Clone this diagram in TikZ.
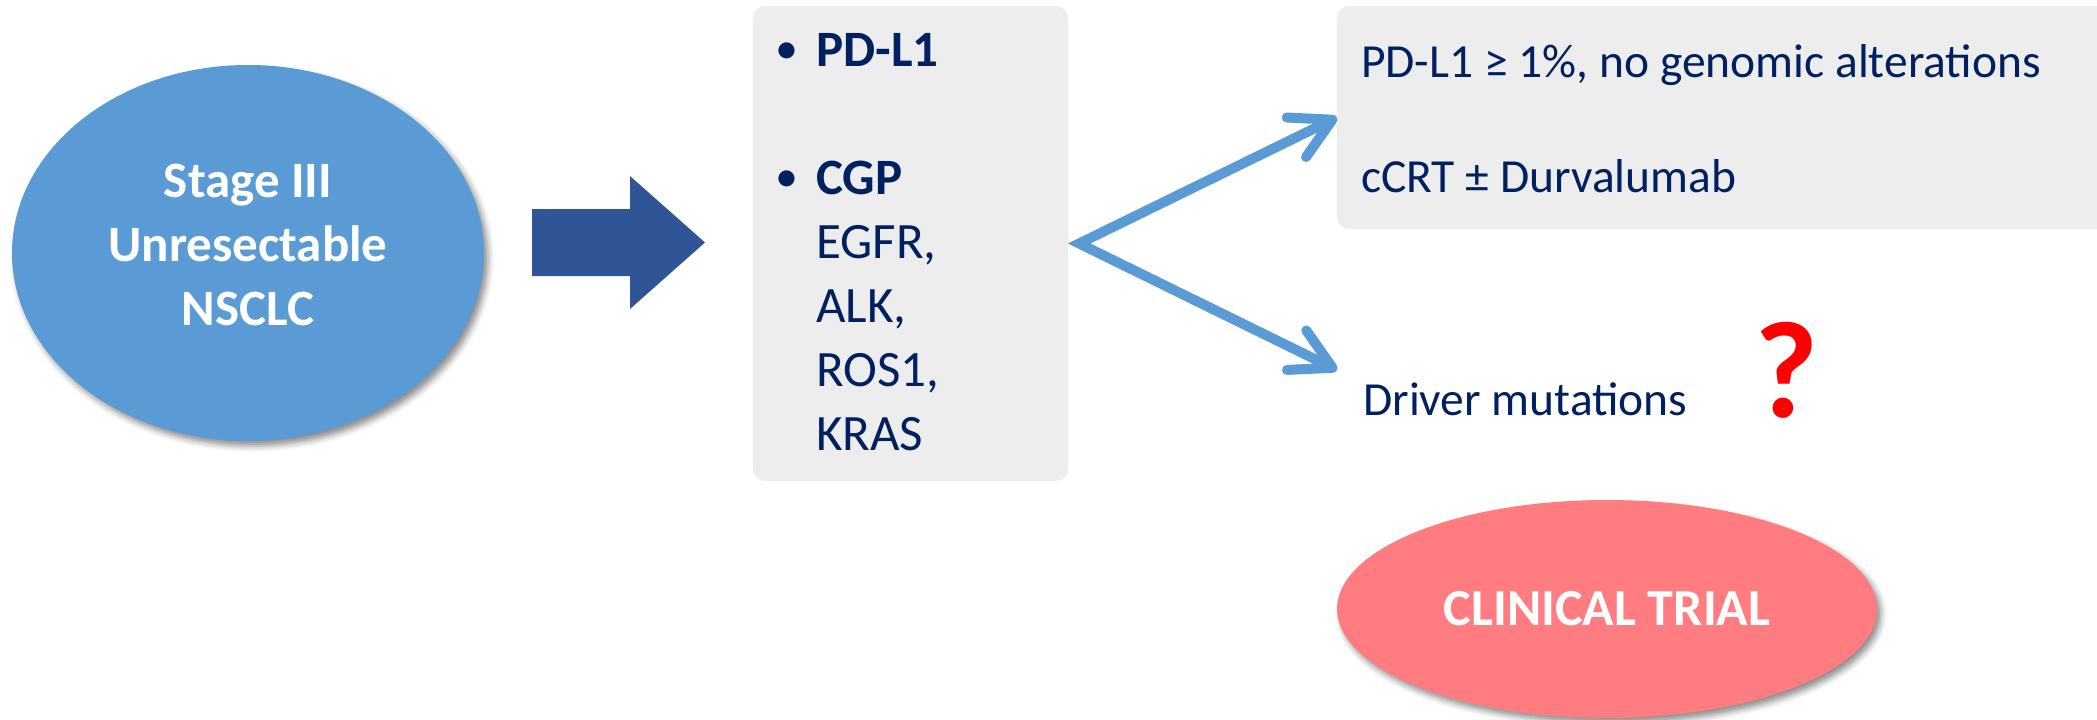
\documentclass[tikz,border=0pt]{standalone}
\usepackage{fontspec}
\setmainfont{Carlito}
\usetikzlibrary{shapes.geometric,arrows.meta,shadows.blur}
\definecolor{ovalblue}{HTML}{5B9BD5}
\definecolor{arrowblue}{HTML}{2F5597}
\definecolor{branchblue}{HTML}{5B9BD5}
\definecolor{panelgray}{HTML}{EDEDED}
\definecolor{navy}{HTML}{002060}
\definecolor{trialred}{HTML}{FF7C80}
\definecolor{qred}{HTML}{FF0000}
\newcommand{\itembullet}{\llap{\makebox[58pt]{\raisebox{5pt}{\fontsize{38}{40}\selectfont •}}}}
\begin{document}
\begin{tikzpicture}[x=1pt,y=-1pt,
  oval/.style={ellipse, inner sep=0pt,
    blur shadow={shadow xshift=4pt, shadow yshift=-5pt, shadow blur radius=6pt, shadow opacity=45}},
  panel/.style={rectangle, rounded corners=12pt, fill=panelgray, inner sep=0pt},
  ovallabel/.style={text=white, inner sep=0pt, align=center, font=\bfseries\fontsize{51}{64}\selectfont},
  itembold/.style={text=navy, inner sep=0pt, anchor=base west, font=\bfseries\fontsize{51}{64}\selectfont},
  itemtext/.style={text=navy, inner sep=0pt, anchor=base west, font=\fontsize{51}{64}\selectfont},
  resulttext/.style={text=navy, inner sep=0pt, anchor=base west, font=\fontsize{47.5}{58}\selectfont},
  bigarrow/.style={fill=arrowblue},
  branch/.style={draw=branchblue, line width=10pt, line join=miter,
    {Straight Barb[length=40pt,width=44pt,round]}-{Straight Barb[length=40pt,width=44pt,round]}}
]
\useasboundingbox (0,0) rectangle (2097,720);
\clip (0,0) rectangle (2097,720);

% starting point
\node[oval, fill=ovalblue, minimum width=472pt, minimum height=376pt] (stage) at (248,253) {};
\node[ovallabel] (stagelbl) at (248,244.5) {Stage III\\Unresectable\\NSCLC};

% block arrow towards the testing panel
\fill[bigarrow] (532,209) -- (630,209) -- (630,176) -- (705,242.5)
  -- (630,309) -- (630,276) -- (532,276) -- cycle;

% biomarker testing panel
\node[panel, minimum width=315pt, minimum height=475pt] (markers) at (910.5,243.5) {};
\node[itembold] (pdl1) at (816,66) {\itembullet PD-L1};
\node[itembold] (cgp) at (816,194) {\itembullet CGP};
\node[itemtext] (egfr) at (816,258) {EGFR,};
\node[itemtext] (alk) at (816,322) {ALK,};
\node[itemtext] (ros) at (816,386) {ROS1,};
\node[itemtext] (kras) at (816,450) {KRAS};

% upper branch: PD-L1 positive, no alterations
\node[panel, minimum width=778pt, minimum height=223pt] (pdl) at (1726,117.5) {};
\node[resulttext] (pdltxt) at (1361,77) {PD-L1 ≥ 1\%, no genomic alterations};
\node[resulttext] (ccrt) at (1361,192) {cCRT ± Durvalumab};

% lower branch: driver mutations
\node[resulttext] (driver) at (1363,415) {Driver mutations};
\node[text=qred, inner sep=0pt, anchor=base, font=\bfseries\fontsize{138}{160}\selectfont] (quest) at (1786,417) {?};

% branching arrows
\coordinate (split) at ([xshift=11pt]markers.east);
\coordinate (drvend) at (1337,370);
\draw[branch] (pdl.west) -- (split) -- (drvend);

% clinical trial
\node[oval, fill=trialred, minimum width=540pt, minimum height=218pt,
  text=white, font=\bfseries\fontsize{52}{62}\selectfont] (trial) at (1607,609) {CLINICAL TRIAL};
\end{tikzpicture}
\end{document}
